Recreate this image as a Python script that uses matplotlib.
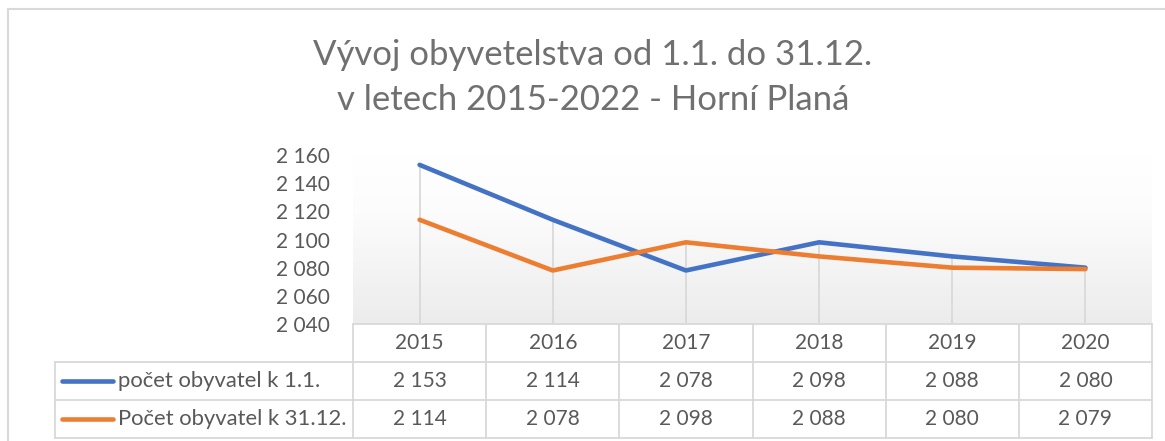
import matplotlib
matplotlib.use('Agg')
import matplotlib.pyplot as plt
import numpy as np
from matplotlib.lines import Line2D
from matplotlib.colors import LinearSegmentedColormap
import matplotlib.transforms as mtransforms

# ---- data ----
years = ['2015', '2016', '2017', '2018', '2019', '2020']
series_names = ['počet obyvatel k 1.1.', 'Počet obyvatel k 31.12.']
pop_start = [2153, 2114, 2078, 2098, 2088, 2080]
pop_end = [2114, 2078, 2098, 2088, 2080, 2079]
y_ticks = [2040, 2060, 2080, 2100, 2120, 2140, 2160]
title_lines = ['Vývoj obyvetelstva od 1.1. do 31.12.', 'v letech 2015-2022 - Horní Planá']

colors = ['#4472C4', '#ED7D31']
grid_col = '#d9d9d9'
text_col = '#595959'
FONT = ['Lato', 'DejaVu Sans']
plt.rcParams['font.family'] = FONT

def fmt(v):
    return f'{v:,}'.replace(',', ' ')

W, H = 1165, 441
fig = plt.figure(figsize=(W / 100, H / 100), dpi=100)
fig.patch.set_facecolor('white')

def fx(px):
    return px / W

def fy(py):
    return 1 - py / H

ax_left, ax_right, ax_top, ax_bot = 353, 1152, 155, 324
ax = fig.add_axes([fx(ax_left), fy(ax_bot), (ax_right - ax_left) / W, (ax_bot - ax_top) / H])

x = np.arange(len(years))
ax.set_xlim(-0.5, len(years) - 0.5)
ax.set_ylim(y_ticks[0], y_ticks[-1])

# gradient background
cmap = LinearSegmentedColormap.from_list('g', [(0, '#ffffff'), (0.35, '#fcfcfc'), (1, '#ececec')])
grad = np.linspace(0, 1, 256).reshape(-1, 1)
ax.imshow(grad, extent=(0, 1, 0, 1), transform=ax.transAxes, aspect='auto',
          cmap=cmap, origin='upper', zorder=0)

# drop lines
ax.vlines(x, y_ticks[0], np.maximum(pop_start, pop_end), color=grid_col, lw=1.3, zorder=1)

for vals, c in zip([pop_start, pop_end], colors):
    ax.plot(x, vals, color=c, lw=3.3, solid_capstyle='round', solid_joinstyle='round', zorder=3)

for s in ax.spines.values():
    s.set_visible(False)
ax.set_xticks([])
ax.set_yticks(y_ticks)
ax.set_yticklabels([fmt(v) for v in y_ticks], fontsize=15, color=text_col)
ax.tick_params(axis='y', length=0, pad=17)

# title
fig.text(fx(593), fy(55), title_lines[0], ha='center', va='center', fontsize=25, color='#707070')
fig.text(fx(593), fy(100), title_lines[1], ha='center', va='center', fontsize=25, color='#707070')

# outer frame
fig.add_artist(Line2D([fx(8), fx(8)], [fy(9), 0], transform=fig.transFigure, color=grid_col, lw=1.5))
fig.add_artist(Line2D([fx(8), 1], [fy(9), fy(9)], transform=fig.transFigure, color=grid_col, lw=1.5))

# data table
bt = mtransforms.blended_transform_factory(ax.transData, fig.transFigure)
rows_y = [324, 362, 400, 438]
legend_left = 55
edges = np.arange(len(years) + 1) - 0.5
tlw = 1.3
# horizontal lines
fig.add_artist(Line2D([edges[0], edges[-1]], [fy(rows_y[0])] * 2, transform=bt, color=grid_col, lw=tlw))
for ry in rows_y[1:]:
    fig.add_artist(Line2D([fx(legend_left), fx(ax_right)], [fy(ry)] * 2,
                          transform=fig.transFigure, color=grid_col, lw=tlw))
# vertical lines
for e in edges:
    fig.add_artist(Line2D([e, e], [fy(rows_y[0]), fy(rows_y[-1])], transform=bt, color=grid_col, lw=tlw))
fig.add_artist(Line2D([fx(legend_left)] * 2, [fy(rows_y[1]), fy(rows_y[-1])],
                      transform=fig.transFigure, color=grid_col, lw=tlw))

# header row
for i, yr in enumerate(years):
    fig.text(i, fy((rows_y[0] + rows_y[1]) / 2), yr, transform=bt, ha='center', va='center',
             fontsize=15, color=text_col)
# series rows
for r, (name, vals, c) in enumerate(zip(series_names, [pop_start, pop_end], colors)):
    yc = fy((rows_y[r + 1] + rows_y[r + 2]) / 2)
    fig.add_artist(Line2D([fx(62), fx(113)], [yc, yc], transform=fig.transFigure, color=c,
                          lw=3.3, solid_capstyle='round'))
    fig.text(fx(118), yc, name, ha='left', va='center', fontsize=15.8, color=text_col)
    for i, v in enumerate(vals):
        fig.text(i, yc, fmt(v), transform=bt, ha='center', va='center', fontsize=15, color=text_col)

fig.savefig('out.png', dpi=100)
